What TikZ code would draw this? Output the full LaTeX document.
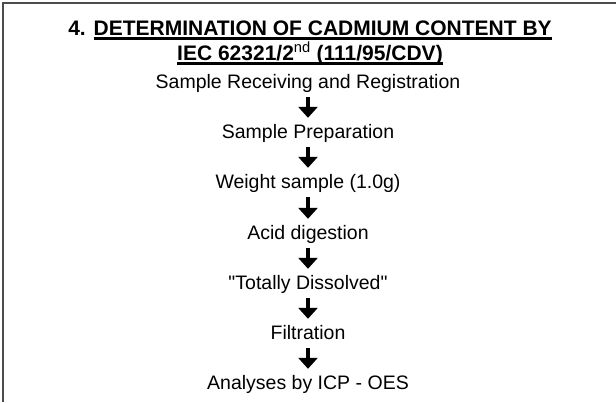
\documentclass[tikz,border=0pt]{standalone}
\usepackage{fontspec}
\setmainfont{Liberation Sans}[Ligatures=TeXOff]
\usetikzlibrary{arrows.meta}
\newcommand\thickul[1]{{\setbox0\hbox{#1}\rlap{\rule[-5pt]{\wd0}{2.8pt}}\box0}}
\tikzset{
  x=1pt, y=1pt,
  stepbox/.style={inner sep=0pt, anchor=base, text height=14pt, text depth=4pt, font=\fontsize{19.5}{22}\selectfont},
  titlebox/.style={inner sep=0pt, anchor=base, font=\fontsize{21}{24}\selectfont\bfseries},
  arr/.style={line width=3.4pt, -{Triangle[width=19pt,length=11pt]}},
  frame/.style={line width=2pt, draw=black!70}
}
\begin{document}
\begin{tikzpicture}
\useasboundingbox (0,0) rectangle (616,-402);
\draw[frame] (2.5,-402) coordinate (fbl) -- (2.5,-2.5) coordinate (ftl) -- (616,-2.5) coordinate (ftr);
\node[titlebox] (t1) at (310,-35) {4. \thickul{DETERMINATION OF CADMIUM CONTENT BY}};
\node[titlebox] (t2) at (310,-60) {\thickul{IEC 62321/2\textsuperscript{\mdseries nd} (111/95/CDV)}};
\node[stepbox] (s1) at (308,-88) {Sample Receiving and Registration};
\node[stepbox] (s2) at (308,-138) {Sample Preparation};
\node[stepbox] (s3) at (308,-188) {Weight sample (1.0g)};
\node[stepbox] (s4) at (308,-239) {Acid digestion};
\node[stepbox] (s5) at (308,-289) {"Totally Dissolved"};
\node[stepbox] (s6) at (308,-339) {Filtration};
\node[stepbox] (s7) at (308,-389) {Analyses by ICP - OES};
\foreach \a/\b in {s1/s2,s2/s3,s3/s4,s4/s5,s5/s6,s6/s7}
  \draw[arr] ([yshift=-5pt]\a.south) -- ([yshift=6pt]\b.north);
\end{tikzpicture}
\end{document}
